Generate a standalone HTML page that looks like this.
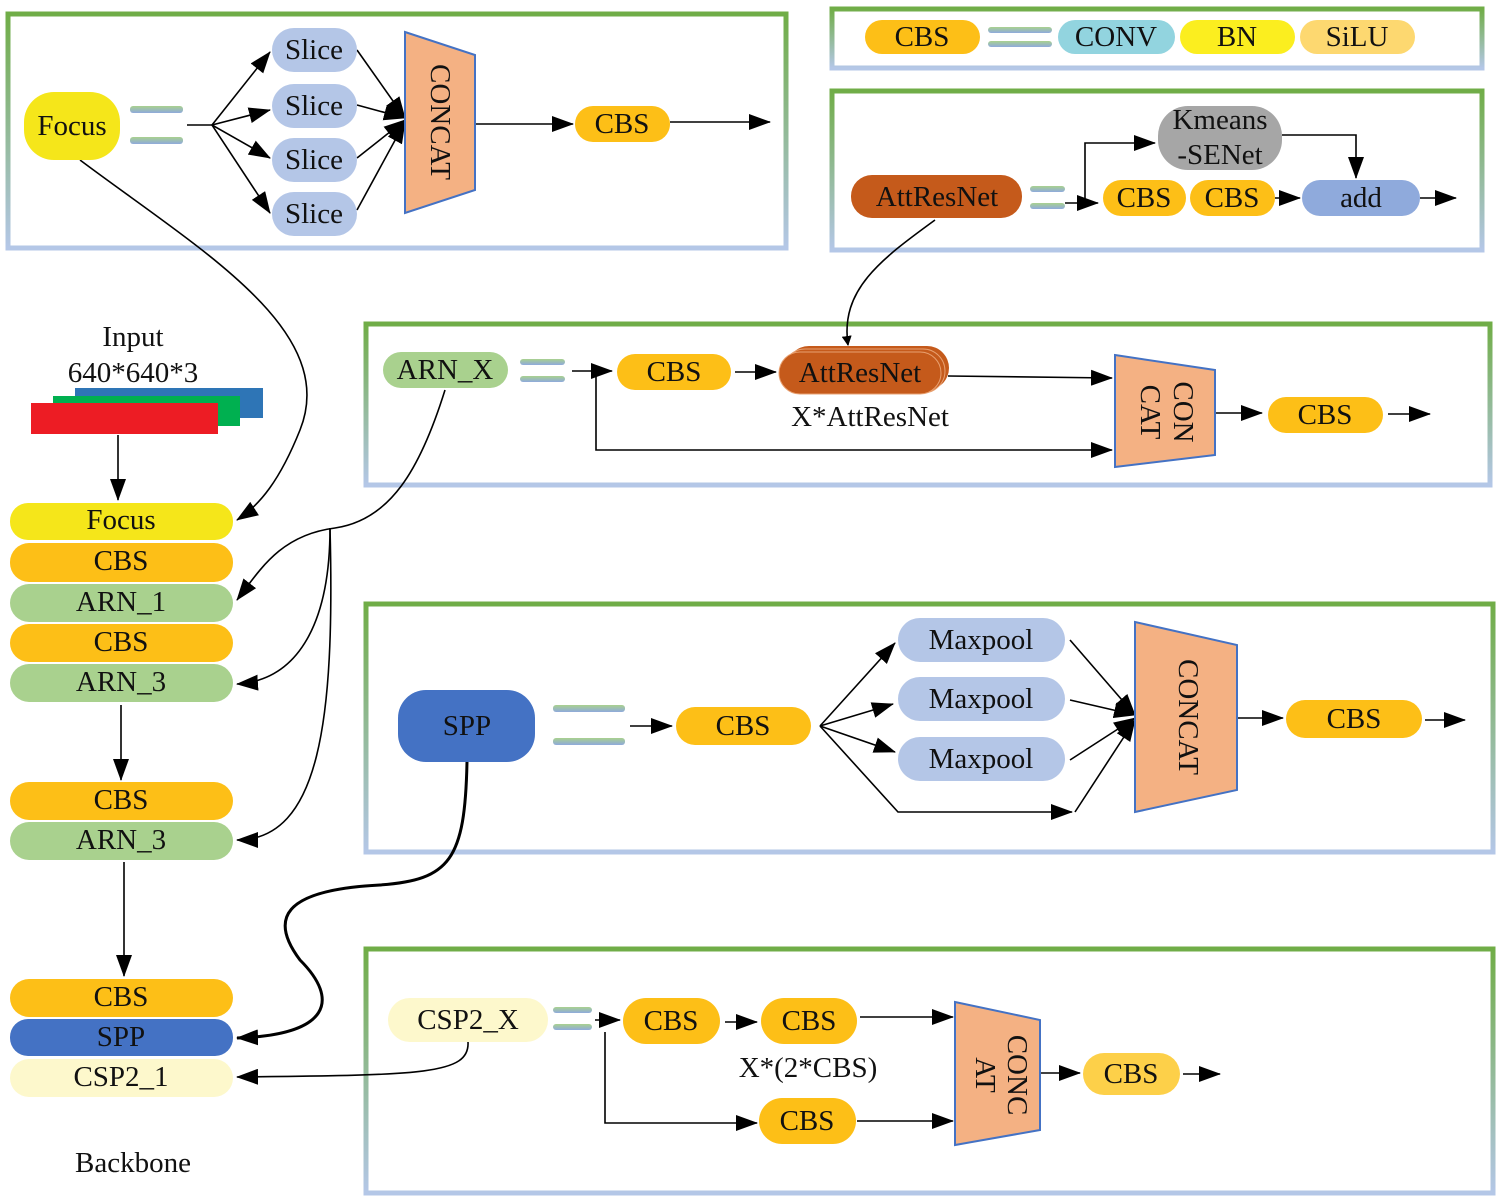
<!DOCTYPE html>
<html><head><meta charset="utf-8"><style>
body{margin:0;background:#fff}
svg{display:block}
text{font-family:"Liberation Serif",serif;font-size:29px;fill:#111;text-anchor:middle;dominant-baseline:central}
</style></head><body>
<svg width="1500" height="1201" viewBox="0 0 1500 1201" xmlns="http://www.w3.org/2000/svg">
<defs>
<linearGradient id="pg" x1="0" y1="0" x2="0" y2="1"><stop offset="0" stop-color="#70ad47"/><stop offset="1" stop-color="#b4c7e7"/></linearGradient>
<linearGradient id="bar" x1="0" y1="0" x2="0" y2="1"><stop offset="0" stop-color="#a9d18e"/><stop offset="1" stop-color="#8faadc"/></linearGradient>
<marker id="a" markerWidth="10" markerHeight="10" refX="9" refY="5" orient="auto" markerUnits="userSpaceOnUse" viewBox="0 0 10 10"><path d="M0,0 L10,5 L0,10z" fill="#000"/></marker>
<marker id="b" markerWidth="22" markerHeight="16" refX="21" refY="8" orient="auto" markerUnits="userSpaceOnUse" viewBox="0 0 22 16"><path d="M0,0 L22,8 L0,16z" fill="#000"/></marker>
</defs>
<g fill="none" stroke="url(#pg)" stroke-width="5">
<rect x="8" y="14" width="778" height="234"/>
<rect x="832" y="9" width="650" height="59"/>
<rect x="832" y="91" width="650" height="159"/>
<rect x="366" y="324" width="1124" height="161"/>
<rect x="366" y="604" width="1127" height="248"/>
<rect x="366" y="949" width="1127" height="244"/>
</g>
<g stroke="#000" stroke-width="1.6" fill="none">
<path d="M187,125 H212"/>
<path d="M212,125 L270,52" marker-end="url(#b)"/><path d="M212,125 L270,110" marker-end="url(#b)"/><path d="M212,125 L270,158" marker-end="url(#b)"/><path d="M212,125 L270,213" marker-end="url(#b)"/>
<path d="M357,50 L405,118" marker-end="url(#b)"/><path d="M357,105 L405,118" marker-end="url(#b)"/><path d="M357,158 L405,120" marker-end="url(#b)"/><path d="M357,210 L405,122" marker-end="url(#b)"/>
<path d="M475,124 H573" marker-end="url(#b)"/><path d="M670,122 H770" marker-end="url(#b)"/>
<path d="M1065,203 H1098" marker-end="url(#b)"/>
<path d="M1085,203 V143 H1155" marker-end="url(#b)"/>
<path d="M1282,135 H1356 V178" marker-end="url(#b)"/>
<path d="M1275,198 H1300" marker-end="url(#b)"/><path d="M1420,198 H1456" marker-end="url(#b)"/>
<path d="M935,220 C880,260 840,290 848,345" marker-end="url(#a)"/>
<path d="M572,371 H612" marker-end="url(#b)"/><path d="M735,372 H776" marker-end="url(#b)"/>
<path d="M948,376 L1112,378" marker-end="url(#b)"/>
<path d="M596,371 V450 H1112" marker-end="url(#b)"/>
<path d="M1215,413 H1262" marker-end="url(#b)"/><path d="M1388,414 H1430" marker-end="url(#b)"/>
<path d="M630,726 H672" marker-end="url(#b)"/>
<path d="M820,726 L895,643" marker-end="url(#b)"/><path d="M820,726 L893,704" marker-end="url(#b)"/><path d="M820,726 L895,752" marker-end="url(#b)"/>
<path d="M820,726 L898,812 H1072" marker-end="url(#b)"/>
<path d="M1070,640 L1135,715" marker-end="url(#b)"/><path d="M1070,700 L1135,715" marker-end="url(#b)"/><path d="M1070,760 L1135,718" marker-end="url(#b)"/><path d="M1075,812 L1135,720" marker-end="url(#b)"/>
<path d="M1238,718 H1283" marker-end="url(#b)"/><path d="M1425,720 H1465" marker-end="url(#b)"/>
<path d="M595,1020 H620" marker-end="url(#b)"/><path d="M725,1022 H757" marker-end="url(#b)"/>
<path d="M860,1017 H953" marker-end="url(#b)"/>
<path d="M605,1032 V1123 H757" marker-end="url(#b)"/>
<path d="M857,1121 H953" marker-end="url(#b)"/>
<path d="M1040,1073 H1080" marker-end="url(#b)"/><path d="M1183,1074 H1220" marker-end="url(#b)"/>
<path d="M118,435 V500" marker-end="url(#b)"/>
<path d="M121,705 V780" marker-end="url(#b)"/>
<path d="M124,862 V976" marker-end="url(#b)"/>
<path d="M80,160 C200,250 340,330 300,430 C280,480 260,505 237,520" marker-end="url(#b)"/>
<path d="M445,390 C420,470 390,520 335,528 C280,535 260,570 237,600" marker-end="url(#b)"/>
<path d="M330,528 C330,620 300,680 237,684" marker-end="url(#b)"/>
<path d="M330,528 C335,720 320,840 237,840" marker-end="url(#b)"/>
<path d="M467,762 C465,860 450,880 380,885 C280,890 270,920 300,960 C340,1000 330,1035 237,1038" stroke-width="3" marker-end="url(#b)"/>
<path d="M468,1042 C470,1075 420,1075 237,1077" marker-end="url(#b)"/>
</g>
<g fill="url(#bar)">
<rect x="130" y="106" width="53" height="7" rx="3"/><rect x="130" y="137" width="53" height="7" rx="3"/>
<rect x="988" y="27" width="64" height="6" rx="3"/><rect x="988" y="41" width="64" height="6" rx="3"/>
<rect x="1030" y="186" width="35" height="6" rx="3"/><rect x="1030" y="203" width="35" height="6" rx="3"/>
<rect x="520" y="359" width="45" height="6" rx="3"/><rect x="520" y="376" width="45" height="6" rx="3"/>
<rect x="553" y="705" width="72" height="7" rx="3"/><rect x="553" y="738" width="72" height="7" rx="3"/>
<rect x="553" y="1007" width="39" height="6" rx="3"/><rect x="553" y="1024" width="39" height="6" rx="3"/>
</g>
<g fill="#f4b183" stroke="#4472c4" stroke-width="2">
<path d="M405,32 L475,55 L475,190 L405,213z"/>
<path d="M1115,355 L1215,370 L1215,455 L1115,467z"/>
<path d="M1135,622 L1237,645 L1237,790 L1135,812z"/>
<path d="M955,1002 L1040,1020 L1040,1130 L955,1145z"/>
</g>
<text transform="translate(440,122) rotate(90)">CONCAT</text>
<text transform="translate(1183,412) rotate(90)">CON</text><text transform="translate(1150,412) rotate(90)">CAT</text>
<text transform="translate(1188,717) rotate(90)">CONCAT</text>
<text transform="translate(1017,1075) rotate(90)">CONC</text><text transform="translate(985,1075) rotate(90)">AT</text>
<rect x="24" y="92" width="96" height="68" rx="30" fill="#f5e61a"/><text x="72" y="126">Focus</text>
<g fill="#b4c6e7"><rect x="272" y="28" width="85" height="44" rx="22"/><rect x="272" y="84" width="85" height="44" rx="22"/><rect x="272" y="138" width="85" height="44" rx="22"/><rect x="272" y="192" width="85" height="44" rx="22"/></g>
<text x="314" y="50">Slice</text><text x="314" y="106">Slice</text><text x="314" y="160">Slice</text><text x="314" y="214">Slice</text>
<rect x="575" y="106" width="95" height="36" rx="18" fill="#fdbf17"/><text x="622" y="124">CBS</text>
<rect x="865" y="20" width="115" height="34" rx="17" fill="#fdbf17"/><text x="922" y="37">CBS</text>
<rect x="1058" y="20" width="117" height="34" rx="17" fill="#92d4df"/><text x="1116" y="37">CONV</text>
<rect x="1180" y="20" width="115" height="34" rx="17" fill="#fbee1f"/><text x="1237" y="37">BN</text>
<rect x="1300" y="20" width="115" height="34" rx="17" fill="#fdd870"/><text x="1357" y="37">SiLU</text>
<rect x="851" y="175" width="171" height="43" rx="21" fill="#c55a1b"/><text x="937" y="197">AttResNet</text>
<rect x="1158" y="106" width="124" height="64" rx="30" fill="#a6a6a6"/><text x="1220" y="120">Kmeans</text><text x="1220" y="155">-SENet</text>
<rect x="1103" y="180" width="83" height="36" rx="18" fill="#fdbf17"/><text x="1144" y="198">CBS</text>
<rect x="1190" y="180" width="85" height="36" rx="18" fill="#fdbf17"/><text x="1232" y="198">CBS</text>
<rect x="1302" y="180" width="118" height="36" rx="18" fill="#8faadc"/><text x="1361" y="198">add</text>
<rect x="383" y="352" width="125" height="36" rx="18" fill="#a9d18e"/><text x="445" y="370">ARN_X</text>
<rect x="617" y="354" width="114" height="36" rx="18" fill="#fdbf17"/><text x="674" y="372">CBS</text>
<rect x="787" y="346" width="162" height="44" rx="22" fill="#c55a1b"/><rect x="783" y="349" width="162" height="44" rx="22" fill="#c55a1b" stroke="#e8a070"/><rect x="779" y="352" width="162" height="42" rx="21" fill="#c55a1b" stroke="#e8a070"/>
<text x="860" y="373">AttResNet</text><text x="870" y="417">X*AttResNet</text>
<rect x="1268" y="397" width="115" height="36" rx="18" fill="#fdbf17"/><text x="1325" y="415">CBS</text>
<rect x="398" y="690" width="137" height="72" rx="28" fill="#4472c4"/><text x="467" y="726">SPP</text>
<rect x="676" y="707" width="135" height="38" rx="19" fill="#fdbf17"/><text x="743" y="726">CBS</text>
<g fill="#b4c6e7"><rect x="898" y="618" width="167" height="44" rx="22"/><rect x="898" y="677" width="167" height="44" rx="22"/><rect x="898" y="737" width="167" height="44" rx="22"/></g>
<text x="981" y="640">Maxpool</text><text x="981" y="699">Maxpool</text><text x="981" y="759">Maxpool</text>
<rect x="1286" y="700" width="136" height="38" rx="19" fill="#fdbf17"/><text x="1354" y="719">CBS</text>
<rect x="388" y="998" width="160" height="44" rx="22" fill="#fdf8cc"/><text x="468" y="1020">CSP2_X</text>
<rect x="623" y="998" width="97" height="46" rx="23" fill="#fdbf17"/><text x="671" y="1021">CBS</text>
<rect x="761" y="998" width="96" height="46" rx="23" fill="#fdbf17"/><text x="809" y="1021">CBS</text>
<text x="808" y="1068">X*(2*CBS)</text>
<rect x="759" y="1098" width="97" height="46" rx="23" fill="#fdbf17"/><text x="807" y="1121">CBS</text>
<rect x="1083" y="1053" width="97" height="42" rx="21" fill="#fdd049"/><text x="1131" y="1074">CBS</text>
<text x="133" y="337">Input</text><text x="133" y="373">640*640*3</text>
<rect x="75" y="388" width="188" height="30" fill="#2e75b6"/><rect x="53" y="396" width="187" height="30" fill="#00b050"/><rect x="31" y="403" width="187" height="31" fill="#ed1c24"/>
<rect x="10" y="503" width="223" height="37" rx="18" fill="#f5e61a"/><text x="121" y="520">Focus</text>
<rect x="10" y="543" width="223" height="39" rx="19" fill="#fdbf17"/><text x="121" y="561">CBS</text>
<rect x="10" y="584" width="223" height="38" rx="19" fill="#a9d18e"/><text x="121" y="602">ARN_1</text>
<rect x="10" y="624" width="223" height="38" rx="19" fill="#fdbf17"/><text x="121" y="642">CBS</text>
<rect x="10" y="664" width="223" height="38" rx="19" fill="#a9d18e"/><text x="121" y="682">ARN_3</text>
<rect x="10" y="782" width="223" height="38" rx="19" fill="#fdbf17"/><text x="121" y="800">CBS</text>
<rect x="10" y="822" width="223" height="38" rx="19" fill="#a9d18e"/><text x="121" y="840">ARN_3</text>
<rect x="10" y="979" width="223" height="38" rx="19" fill="#fdbf17"/><text x="121" y="997">CBS</text>
<rect x="10" y="1019" width="223" height="37" rx="18" fill="#4472c4"/><text x="121" y="1037">SPP</text>
<rect x="10" y="1059" width="223" height="38" rx="19" fill="#fdf8cc"/><text x="121" y="1077">CSP2_1</text>
<text x="133" y="1163">Backbone</text>
</svg>
</body></html>
